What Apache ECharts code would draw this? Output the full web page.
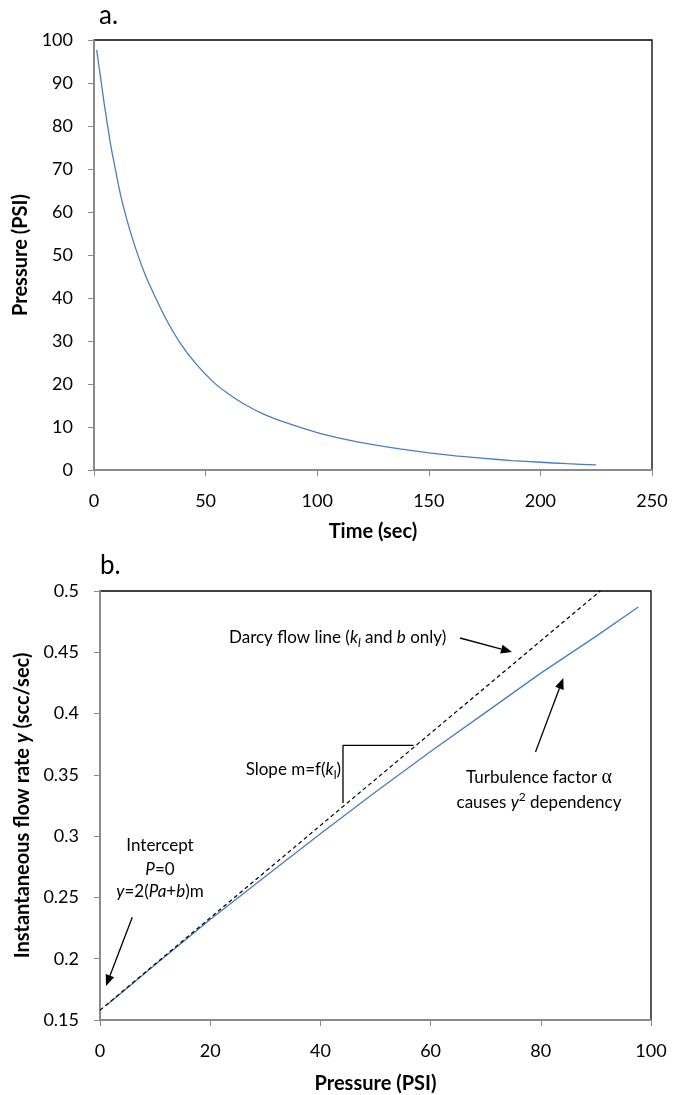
<!DOCTYPE html>
<html>
<head>
<meta charset="utf-8">
<script src="https://cdn.jsdelivr.net/npm/echarts@6/dist/echarts.min.js"></script>
<style>
  html, body { margin: 0; padding: 0; background: #fff; }
  #chart { width: 673px; height: 1095px; }
</style>
</head>
<body>
<div id="chart"></div>
<script>
// ---------- Panel a: pressure decay ----------
const timeSec   = [1.2, 2.1, 3.4, 4.6, 6.0, 7.6, 9.4, 11.3, 13.5, 16.4, 19.8, 23.5, 28.0, 32.7, 38.4, 45.5, 54.0, 60, 67.4, 76, 86, 100, 112, 125, 137, 150, 162, 175, 187, 200, 212, 225];
const pressureA = [97.7, 94.3, 89.6, 85.1, 80.4, 75.2, 70.4, 65.4, 60.6, 55.2, 49.8, 44.7, 39.6, 34.7, 29.7, 24.8, 20.2, 17.8, 15.3, 13.0, 11.0, 8.7, 7.2, 5.9, 4.9, 4.0, 3.3, 2.7, 2.2, 1.8, 1.46, 1.2];

// ---------- Panel b: flow rate vs pressure ----------
const pressureB = [1.2, 10, 20, 30, 40, 50, 60, 70, 80, 90, 97.7];
const flowRate  = [0.162, 0.195, 0.232, 0.267, 0.302, 0.336, 0.369, 0.401, 0.433, 0.463, 0.487];
const darcyP    = [0, 90.8];
const darcyY    = [0.158, 0.5];
const slopeP    = [44.1, 44.1, 56.9];
const slopeY    = [0.327, 0.374, 0.374];

// axis ranges / ticks
const axisA_x = { min: 0, max: 250, interval: 50 };
const axisA_y = { min: 0, max: 100, interval: 10 };
const axisB_x = { min: 0, max: 100, interval: 20 };
const axisB_y = { min: 0.15, max: 0.5, interval: 0.05 };

const FONT = 'Lato';
const AXIS_GRAY = '#8a8a8a';
const BLUE = '#4a7ebb';

function zip(a, b) { return a.map((v, i) => [v, b[i]]); }

function valueAxis(gridIndex, r, name, nameGap, isY, extra) {
  return Object.assign({
    type: 'value', gridIndex: gridIndex,
    min: r.min, max: r.max, interval: r.interval,
    name: name, nameLocation: 'middle', nameGap: nameGap,
    nameRotate: isY ? 90 : 0,
    nameTextStyle: { fontFamily: FONT, fontWeight: 'bold', fontSize: 20, color: '#000' },
    axisLine: { show: true, onZero: false, lineStyle: { color: AXIS_GRAY, width: 2 } },
    axisTick: { show: true, inside: false, length: 6, lineStyle: { color: AXIS_GRAY, width: 1 } },
    axisLabel: { fontFamily: FONT, fontSize: 18, color: '#000', margin: isY ? 21 : 22 },
    splitLine: { show: false }
  }, extra || {});
}

function arrow(x1, y1, x2, y2) {
  const ang = Math.atan2(y2 - y1, x2 - x1);
  const L = 11, W = 4.5;
  const bx = x2 - L * Math.cos(ang), by = y2 - L * Math.sin(ang);
  const px = -Math.sin(ang) * W, py = Math.cos(ang) * W;
  return [
    { type: 'line', shape: { x1: x1, y1: y1, x2: bx, y2: by }, style: { stroke: '#000', lineWidth: 1.3 }, z: 100 },
    { type: 'polygon', shape: { points: [[x2, y2], [bx + px, by + py], [bx - px, by - py]] }, style: { fill: '#000' }, z: 100 }
  ];
}

const annRich = {
  i:   { fontFamily: FONT, fontSize: 17, fontStyle: 'italic', color: '#000' },
  sub: { fontFamily: FONT, fontSize: 12, fontStyle: 'italic', color: '#000', verticalAlign: 'bottom' },
  subr:{ fontFamily: FONT, fontSize: 12, color: '#000', verticalAlign: 'bottom' },
  sup: { fontFamily: FONT, fontSize: 12, color: '#000', verticalAlign: 'top' },
  a:   { fontFamily: 'Liberation Serif', fontSize: 20, color: '#000' }
};

function txt(x, y, text, align, extra) {
  return Object.assign({
    type: 'text', x: x, y: y, z: 100,
    style: {
      text: text, fontFamily: FONT, fontSize: 17, fill: '#000',
      align: align, verticalAlign: 'middle', rich: annRich, lineHeight: 23
    }
  }, extra || {});
}

const chart = echarts.init(document.getElementById('chart'), null, { renderer: 'canvas' });

const graphics = [].concat(
  [
    { type: 'text', x: 99, y: 16, style: { text: 'a.', fontFamily: FONT, fontSize: 26, fill: '#000', align: 'left', verticalAlign: 'middle' } },
    { type: 'text', x: 100, y: 566, style: { text: 'b.', fontFamily: FONT, fontSize: 26, fill: '#000', align: 'left', verticalAlign: 'middle' } },
    txt(229, 638, 'Darcy flow line ({i|k}{sub|l} and {i|b} only)', 'left'),
    txt(341, 770, 'Slope m=f({i|k}{subr|l})', 'right'),
    txt(539, 778, 'Turbulence factor {a|α}', 'center'),
    txt(539, 803, 'causes {i|y}{sup|2} dependency', 'center'),
    txt(160, 846, 'Intercept', 'center'),
    txt(160, 870, '{i|P}=0', 'center'),
    txt(160, 892, '{i|y}=2({i|Pa}+{i|b})m', 'center')
  ],
  arrow(460, 638, 512, 652),
  arrow(535.5, 752, 563.3, 678),
  arrow(132.3, 917.3, 106, 986)
);

chart.setOption({
  animation: false,
  backgroundColor: '#fff',
  textStyle: { fontFamily: FONT },
  grid: [
    { left: 94, top: 40, width: 558, height: 430, show: true, borderColor: '#000', borderWidth: 1.3, backgroundColor: 'transparent' },
    { left: 100, top: 591, width: 551, height: 429, show: true, borderColor: '#000', borderWidth: 1.3, backgroundColor: 'transparent' }
  ],
  xAxis: [
    valueAxis(0, axisA_x, 'Time (sec)', 52, false),
    valueAxis(1, axisB_x, 'Pressure (PSI)', 54, false)
  ],
  yAxis: [
    valueAxis(0, axisA_y, 'Pressure (PSI)', 58, true),
    valueAxis(1, axisB_y, '{b|Instantaneous flow rate }{bi|y}{b| (scc/sec)}', 65, true, {
      nameTextStyle: {
        fontFamily: FONT, fontWeight: 'bold', fontSize: 20, color: '#000',
        rich: {
          b:  { fontFamily: FONT, fontWeight: 'bold', fontSize: 20, color: '#000' },
          bi: { fontFamily: FONT, fontWeight: 'bold', fontStyle: 'italic', fontSize: 20, color: '#000' }
        }
      }
    })
  ],
  series: [
    { type: 'line', xAxisIndex: 0, yAxisIndex: 0, data: zip(timeSec, pressureA), smooth: 0.2,
      showSymbol: false, lineStyle: { color: BLUE, width: 1.3 }, itemStyle: { color: BLUE } },
    { type: 'line', xAxisIndex: 1, yAxisIndex: 1, data: zip(pressureB, flowRate), smooth: false,
      showSymbol: false, lineStyle: { color: BLUE, width: 1.3 }, itemStyle: { color: BLUE } },
    { type: 'line', xAxisIndex: 1, yAxisIndex: 1, data: zip(darcyP, darcyY),
      showSymbol: false, lineStyle: { color: '#000', width: 1.2, type: [4, 3] } },
    { type: 'line', xAxisIndex: 1, yAxisIndex: 1, data: zip(slopeP, slopeY),
      showSymbol: false, lineStyle: { color: '#000', width: 1.3 } }
  ],
  graphic: graphics
});
</script>
</body>
</html>
